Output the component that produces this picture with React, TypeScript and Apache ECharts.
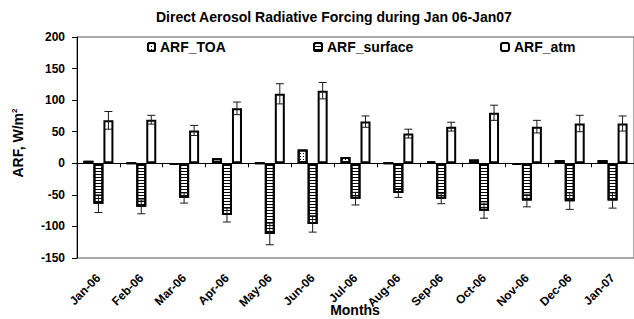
import React, { useEffect, useRef } from "react";
import * as echarts from "echarts";

const months = ["Jan-06", "Feb-06", "Mar-06", "Apr-06", "May-06", "Jun-06", "Jul-06", "Aug-06", "Sep-06", "Oct-06", "Nov-06", "Dec-06", "Jan-07"];
const arfToa = [4, 0, -2, 8, 0, 22, 10, 0, 3, 6, -2, 5, 5];
const arfSurface = [-64, -69, -55, -82, -112, -96, -56, -47, -56, -75, -59, -60, -59];
const arfSurfaceErr = [14, 11, 8, 11, 17, 13, 10, 7, 8, 12, 10, 13, 12];
const arfAtm = [68, 69, 52, 87, 110, 115, 66, 47, 58, 80, 58, 63, 63];
const arfAtmErr = [14, 7, 8, 10, 16, 13, 9, 7, 7, 12, 10, 13, 12];
const yMin = -150;
const yMax = 200;
const yStep = 50;

const FONT = "'Liberation Sans', Arial, sans-serif";

function errorSeries(values: number[], errs: number[], offset: number) {
  return {
    type: "custom",
    xAxisIndex: 0,
    yAxisIndex: 0,
    silent: true,
    z: 5,
    data: values.map((v, i) => [i, v, errs[i]]),
    encode: { x: 0, y: 1 },
    renderItem: (params: any, api: any) => {
      const i = api.value(0);
      const v = api.value(1);
      const e = api.value(2);
      const top = api.coord([i, v + e]);
      const bot = api.coord([i, v - e]);
      const x = top[0] + offset;
      const hw = 4;
      const st = { stroke: "#1a1a1a", lineWidth: 1 };
      return {
        type: "group",
        children: [
          { type: "line", shape: { x1: x, y1: top[1], x2: x, y2: bot[1] }, style: st },
          { type: "line", shape: { x1: x - hw, y1: top[1], x2: x + hw, y2: top[1] }, style: st },
          { type: "line", shape: { x1: x - hw, y1: bot[1], x2: x + hw, y2: bot[1] }, style: st },
        ],
      };
    },
  };
}

export default function App() {
  const ref = useRef<HTMLDivElement>(null);
  useEffect(() => {
    if (!ref.current) return;
    const chart = echarts.init(ref.current, undefined, { renderer: "svg" });
    const legendText = { fontFamily: FONT, fontSize: 14, fontWeight: "bold", color: "#000" };
    const option: any = {
      animation: false,
      backgroundColor: "#fff",
      title: {
        text: "Direct Aerosol Radiative Forcing during Jan 06-Jan07",
        left: 156,
        top: 10,
        padding: 0,
        textStyle: { fontFamily: FONT, fontSize: 14, fontWeight: "bold", color: "#000" },
      },
      legend: [
        { data: ["ARF_TOA"], left: 147, top: 40, padding: 0, itemWidth: 7, itemHeight: 8, textStyle: legendText },
        { data: ["ARF_surface"], left: 313, top: 40, padding: 0, itemWidth: 8, itemHeight: 8, textStyle: legendText },
        { data: ["ARF_atm"], left: 500, top: 40, padding: 0, itemWidth: 8, itemHeight: 8, textStyle: legendText },
      ],
      grid: {
        left: 77,
        top: 37,
        width: 559,
        height: 221,
        show: true,
        borderColor: "#555",
        borderWidth: 1,
      },
      xAxis: [
        {
          type: "category",
          data: months,
          position: "bottom",
          boundaryGap: true,
          axisLine: { show: true, onZero: true, lineStyle: { color: "#000", width: 1 } },
          axisTick: { show: true, length: 4, interval: 0, lineStyle: { color: "#000" } },
          axisLabel: { show: false },
          splitLine: { show: false },
        },
        {
          type: "category",
          data: months,
          position: "bottom",
          boundaryGap: true,
          axisLine: { show: false, onZero: false },
          axisTick: { show: false },
          axisLabel: {
            show: true,
            interval: 0,
            rotate: 45,
            margin: 18,
            fontFamily: FONT,
            fontSize: 12,
            fontWeight: "bold",
            color: "#000",
          },
          splitLine: { show: false },
        },
      ],
      yAxis: {
        type: "value",
        min: yMin,
        max: yMax,
        interval: yStep,
        splitLine: { show: false },
        axisLine: { show: true, lineStyle: { color: "#000" } },
        axisTick: { show: true, length: 5, lineStyle: { color: "#000" } },
        axisLabel: { margin: 12, fontFamily: FONT, fontSize: 12, fontWeight: "bold", color: "#000" },
      },
      series: [
        {
          name: "ARF_TOA",
          type: "bar",
          data: arfToa,
          barWidth: 10,
          barGap: "0%",
          itemStyle: {
            color: "#fff",
            borderColor: "#000",
            borderWidth: 2,
            decal: { symbol: "rect", symbolSize: 1, dashArrayX: [1, 2], dashArrayY: [1, 2], color: "#000" },
          },
        },
        {
          name: "ARF_surface",
          type: "bar",
          data: arfSurface,
          barWidth: 10,
          barGap: "0%",
          itemStyle: {
            color: "#fff",
            borderColor: "#000",
            borderWidth: 2,
            decal: { symbol: "rect", symbolSize: 1, dashArrayX: [1, 0], dashArrayY: [1, 2], color: "#000", rotation: 0 },
          },
        },
        {
          name: "ARF_atm",
          type: "bar",
          data: arfAtm,
          barWidth: 10,
          barGap: "0%",
          itemStyle: { color: "#fff", borderColor: "#000", borderWidth: 2 },
        },
        errorSeries(arfSurface, arfSurfaceErr, 0),
        errorSeries(arfAtm, arfAtmErr, 10),
      ],
      graphic: [
        {
          type: "text",
          x: 18,
          y: 143,
          rotation: Math.PI / 2,
          style: {
            text: "ARF, W/m{sup|2}",
            align: "center",
            verticalAlign: "middle",
            fontFamily: FONT,
            fontSize: 14,
            fontWeight: "bold",
            fill: "#000",
            rich: {
              sup: { fontFamily: FONT, fontSize: 8, fontWeight: "bold", verticalAlign: "top", padding: [0, 0, 8, 0] },
            },
          },
        },
        {
          type: "text",
          x: 355,
          y: 310,
          style: {
            text: "Months",
            align: "center",
            verticalAlign: "middle",
            fontFamily: FONT,
            fontSize: 14,
            fontWeight: "bold",
            fill: "#000",
          },
        },
      ],
    };
    chart.setOption(option);
    return () => chart.dispose();
  }, []);
  return <div ref={ref} style={{ width: 634, height: 319, position: "absolute", left: 0, top: 0 }} />;
}
